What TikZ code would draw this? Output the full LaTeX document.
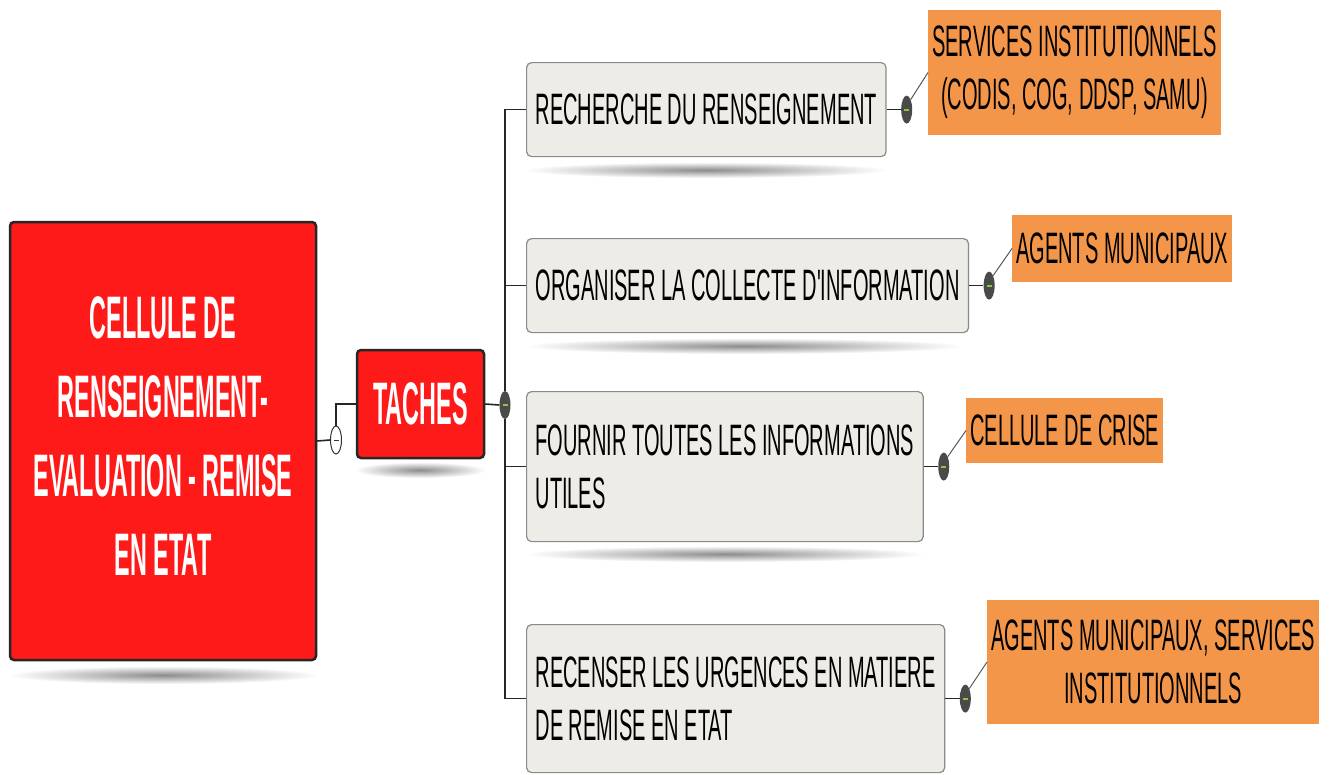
\documentclass[tikz,border=0pt]{standalone}
\usepackage{fontspec}
\setmainfont{Liberation Sans}
\newfontfamily\taskfont[FakeStretch=0.455]{Liberation Sans}
\newfontfamily\headfont[FakeStretch=0.39]{Liberation Sans}
\usetikzlibrary{shapes.geometric}
\definecolor{cred}{HTML}{FF1A1A}
\definecolor{corange}{HTML}{F4964A}
\definecolor{cbox}{HTML}{EEECE6}
\definecolor{cborder}{HTML}{8A8A88}
\definecolor{chub}{HTML}{4A4A4A}
\definecolor{cgreen}{HTML}{8CC63F}
\begin{document}
\begin{tikzpicture}[x=1pt,y=-1pt,
 redbox/.style={draw=black!85, line width=2.5pt, fill=cred, rounded corners=4pt, text=white,
   font=\headfont\bfseries\fontsize{60}{79}\selectfont, align=center, inner sep=0pt},
 taskbox/.style={draw=cborder, line width=1.2pt, fill=cbox, rounded corners=5pt, anchor=north west,
   align=left, inner xsep=9pt, inner ysep=0pt, font=\taskfont\fontsize{44}{53}\selectfont},
 orangebox/.style={fill=corange, anchor=west, align=center, inner xsep=4pt, inner ysep=0pt,
   font=\taskfont\fontsize{44}{53}\selectfont},
 hub/.style={ellipse, fill=chub, minimum width=11pt, minimum height=28pt, inner sep=0pt,
   path picture={\draw[cgreen,line width=1.8pt] ([xshift=-2.5pt]path picture bounding box.center) -- ([xshift=2.5pt]path picture bounding box.center);}},
 toggle/.style={ellipse, draw=black!80, fill=white, line width=1pt, minimum width=11pt, minimum height=28pt, inner sep=0pt,
   path picture={\draw[black!80,line width=1pt] ([xshift=-2.5pt]path picture bounding box.center) -- ([xshift=2.5pt]path picture bounding box.center);}},
 link/.style={line width=1.6pt, draw=black!85},
 leaf/.style={line width=1pt, draw=black!65},
 shadow/.style={inner color=black!45, outer color=white},
]
\useasboundingbox[fill=white] (0,0) rectangle (1333,774);

% shadows
\shade[shadow] (163,675) ellipse [x radius=155pt, y radius=9pt];
\shade[shadow] (420,470) ellipse [x radius=66pt, y radius=8pt];
\shade[shadow] (706,170) ellipse [x radius=182pt, y radius=8pt];
\shade[shadow] (744,346) ellipse [x radius=220pt, y radius=8pt];
\shade[shadow] (725,554) ellipse [x radius=200pt, y radius=8pt];

% main boxes
\node[redbox, minimum width=306pt, minimum height=438pt] (main) at (163,441)
  {\begin{tabular}{@{}c@{}}CELLULE DE\\RENSEIGNEMENT-\\EVALUATION - REMISE\\EN ETAT\end{tabular}};
\node[redbox, minimum width=127pt, minimum height=108pt] (taches) at (420.5,404) {TACHES};

% task boxes
\node[taskbox, minimum height=94pt] (t1) at (526,62) {RECHERCHE DU RENSEIGNEMENT};
\node[taskbox, minimum height=94pt] (t2) at (526,238) {ORGANISER LA COLLECTE D'INFORMATION};
\node[taskbox, minimum height=150pt] (t3) at (526,391) {FOURNIR TOUTES LES INFORMATIONS\\UTILES};
\node[taskbox, minimum height=148pt] (t4) at (526,624) {RECENSER LES URGENCES EN MATIERE\\DE REMISE EN ETAT};

% orange boxes
\node[orangebox, minimum height=125pt] (o1) at (928,72.5) {SERVICES INSTITUTIONNELS\\(CODIS, COG, DDSP, SAMU)};
\node[orangebox, minimum height=67pt] (o2) at (1012,248.5) {AGENTS MUNICIPAUX};
\node[orangebox, minimum height=65pt] (o3) at (966,430.5) {CELLULE DE CRISE};
\node[orangebox, minimum height=124pt] (o4) at (987,662) {AGENTS MUNICIPAUX, SERVICES\\INSTITUTIONNELS};

% toggles and hubs
\node[toggle] (c0) at (336,440) {};
\node[hub] (h0) at (505,405) {};
\node[hub] (h1) at ([xshift=20pt]t1.east) {};
\node[hub] (h2) at ([xshift=20pt]t2.east) {};
\node[hub] (h3) at ([xshift=20pt]t3.east) {};
\node[hub] (h4) at ([xshift=20pt]t4.east) {};

% connectors
\draw[link] (main.east) -- (c0.west);
\draw[link] (c0.north) |- (taches.west);
\draw[link] (taches.east) -- (h0.west);
\draw[link] (h0.north) |- (t1.west);
\draw[link] (h0.north) |- (t2.west);
\draw[link] (h0.south) |- (t3.west);
\draw[link] (h0.south) |- (t4.west);
\draw[link] (t1.east) -- (h1.west);
\draw[link] (t2.east) -- (h2.west);
\draw[link] (t3.east) -- (h3.west);
\draw[link] (t4.east) -- (h4.west);
\draw[leaf] (h1.north east) -- (o1.west);
\draw[leaf] (h2.north east) -- (o2.west);
\draw[leaf] (h3.north east) -- (o3.west);
\draw[leaf] (h4.north east) -- (o4.west);
\end{tikzpicture}
\end{document}
